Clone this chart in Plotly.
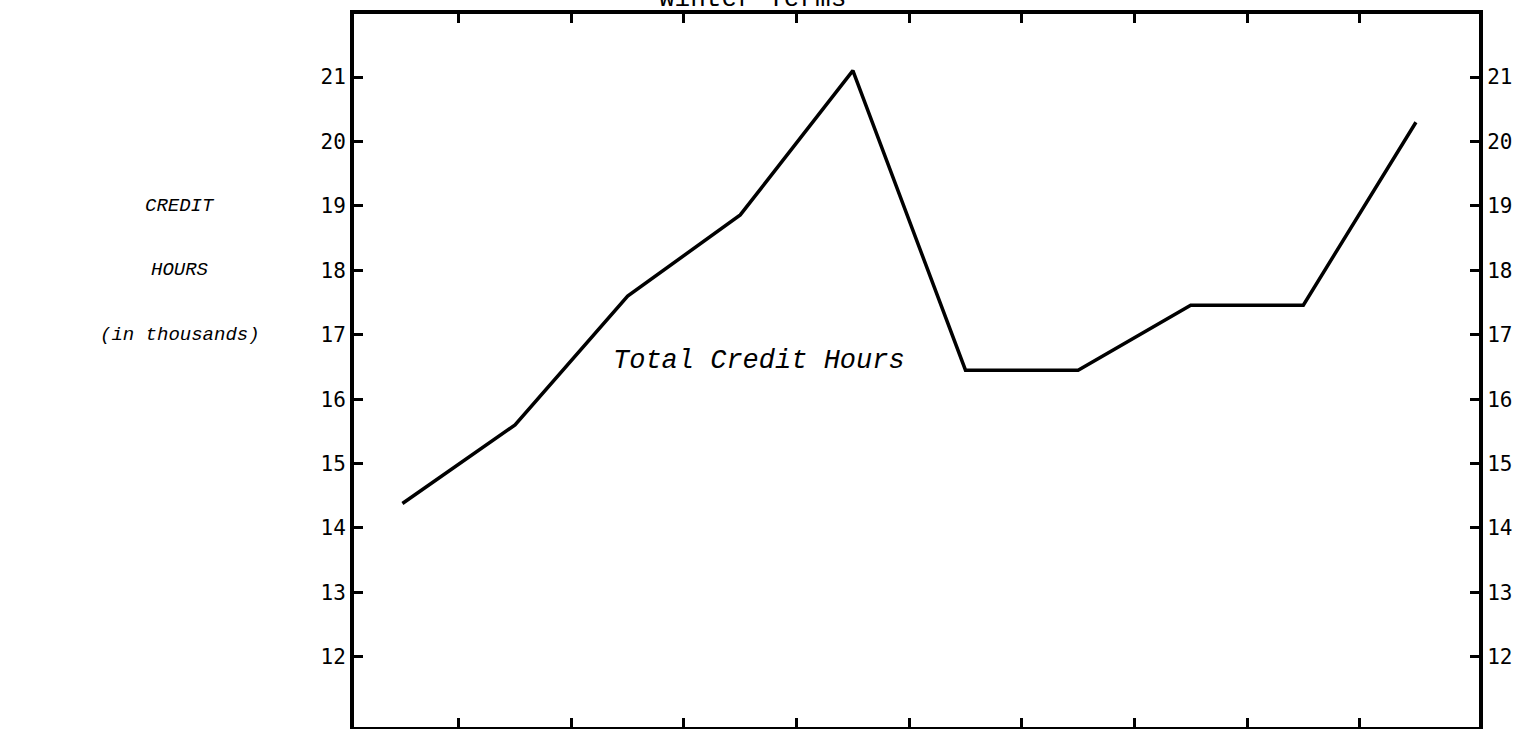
import plotly.graph_objects as go

# credit hours per winter term, in thousands (terms numbered left to right)
terms = [1, 2, 3, 4, 5, 6, 7, 8, 9, 10]
credit_hours = [14.38, 15.6, 17.6, 18.86, 21.1, 16.45, 16.45, 17.46, 17.46, 20.3]
y_ticks = [12, 13, 14, 15, 16, 17, 18, 19, 20, 21]
term_breaks = [1.5, 2.5, 3.5, 4.5, 5.5, 6.5, 7.5, 8.5, 9.5]

mono = 'Liberation Mono, Courier New, monospace'
x_range = [0.57, 10.56]
y_range = [10.91, 21.98]

fig = go.Figure()
fig.add_trace(go.Scatter(x=terms, y=credit_hours, mode='lines',
                         line=dict(color='black', width=3.5), showlegend=False))
# dummy trace so the top and right axes get drawn
fig.add_trace(go.Scatter(x=terms, y=credit_hours, xaxis='x2', yaxis='y2',
                         mode='lines', line=dict(width=0), hoverinfo='skip',
                         showlegend=False))

common_x = dict(range=x_range, tickvals=term_breaks, ticks='inside', ticklen=9,
                tickwidth=3, tickcolor='black', showticklabels=False,
                showgrid=False, zeroline=False, showline=True, linecolor='black')
common_y = dict(range=y_range, tickvals=y_ticks, ticks='inside', ticklen=9,
                tickwidth=3, tickcolor='black', showgrid=False, zeroline=False,
                showline=True, linecolor='black', linewidth=4,
                tickfont=dict(family='DejaVu Sans Mono', size=21, color='black'))

fig.update_layout(
    width=1521, height=729,
    margin=dict(l=354, r=42, t=14, b=2),
    paper_bgcolor='white', plot_bgcolor='white',
    xaxis=dict(**common_x, linewidth=2),
    xaxis2=dict(**common_x, linewidth=4, overlaying='x', side='top', matches='x'),
    yaxis=dict(**common_y, side='left'),
    yaxis2=dict(**common_y, side='right', overlaying='y', matches='y'),
)

# left-hand axis caption
for txt, yv in [('CREDIT', 19), ('HOURS', 18), ('(in thousands)', 17)]:
    fig.add_annotation(text=txt, xref='paper', yref='y', x=-0.155, y=yv,
                       showarrow=False, xanchor='center',
                       font=dict(family=mono, size=19, color='black', style='italic'))

fig.add_annotation(text='Total Credit Hours', x=4.17, y=16.6, showarrow=False,
                   font=dict(family=mono, size=27, color='black', style='italic'))

# title sits mostly above the page edge, as in the scan
fig.add_annotation(text='Winter Terms', xref='paper', yref='paper', x=0.354, y=1,
                   yanchor='bottom', xanchor='center', yshift=-2, showarrow=False,
                   font=dict(family=mono, size=26, color='black'))

fig.write_html('out.html', config={'displayModeBar': False},
               post_script="document.body.style.margin='0';")
